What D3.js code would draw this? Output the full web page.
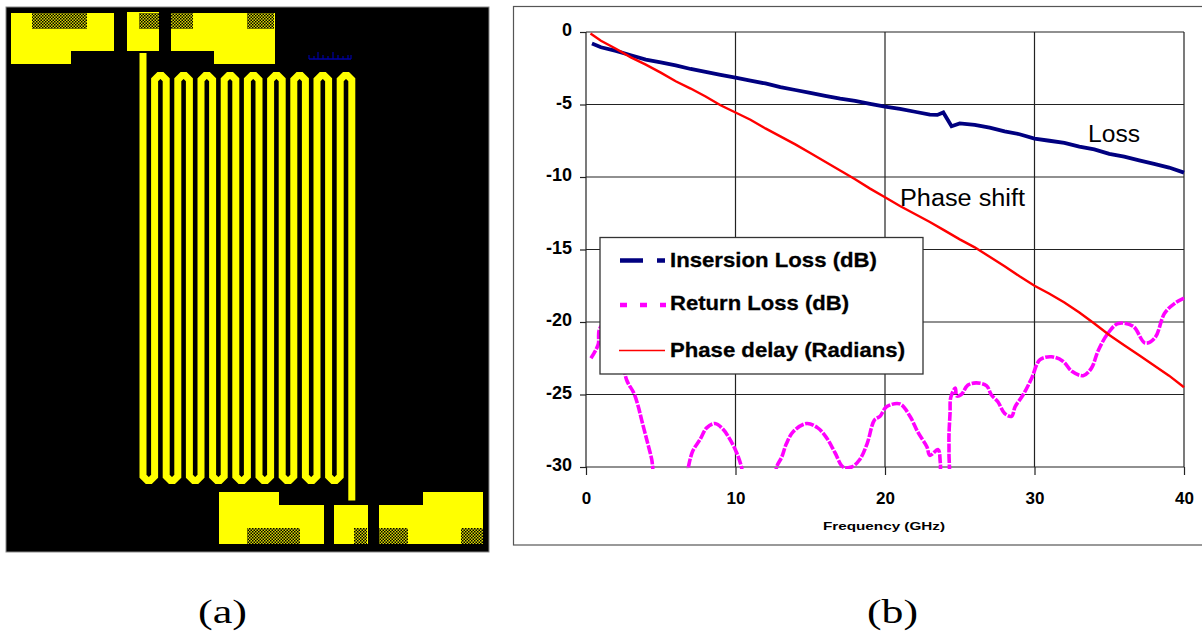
<!DOCTYPE html>
<html>
<head>
<meta charset="utf-8">
<script src="https://cdnjs.cloudflare.com/ajax/libs/d3/7.8.5/d3.min.js"></script>
<style>
  html, body { margin: 0; padding: 0; background: #fff; }
  svg { display: block; }
  text { font-family: "Liberation Sans", Arial, sans-serif; fill: #000; }
</style>
</head>
<body>
<svg id="chart" width="1202" height="635"></svg>
<script>
// chart data
var lossFreq = [0.4,1,2,3,4,5,6,7,8,9,10,11,12,13,14,15,16,17,18,19,20,21,22,23,23.5,23.9,24.45,25,26,27,28,29,30,31,32,33,34,35,36,37,38,39,40];
var lossDb = [-0.8,-1.05,-1.3,-1.6,-1.9,-2.1,-2.3,-2.55,-2.75,-2.95,-3.15,-3.35,-3.55,-3.8,-4,-4.2,-4.4,-4.6,-4.75,-4.95,-5.15,-5.3,-5.5,-5.7,-5.72,-5.55,-6.5,-6.3,-6.4,-6.6,-6.85,-7.05,-7.35,-7.5,-7.65,-7.9,-8.1,-8.4,-8.6,-8.85,-9.1,-9.35,-9.7];

var phaseFreq = [0.3,1,2,3,4,5,6,7,8,9,10,11,12,13,14,15,16,17,18,19,20,21,22,23,24,25,26,27,28,29,30,31,32,33,34,35,36,37,38,39,40];
var phaseRad = [-0.1,-0.6,-1.15,-1.75,-2.25,-2.8,-3.4,-3.9,-4.45,-5.05,-5.55,-6.05,-6.65,-7.2,-7.75,-8.35,-8.95,-9.55,-10.15,-10.8,-11.4,-12,-12.55,-13.1,-13.7,-14.3,-14.85,-15.5,-16.15,-16.85,-17.5,-18.05,-18.65,-19.35,-20.1,-20.9,-21.6,-22.3,-23,-23.7,-24.5];

var returnFreq = [0.33,0.67,0.83,0.9,1.5,2.2,2.72,3.2,3.5,3.72,4.06,4.4,4.46,4.6,6.7,6.85,7.14,7.63,8.07,8.63,9.17,9.63,10.07,10.4,10.6,12.6,12.75,13.1,13.4,13.87,14.76,15.5,16.1,16.65,17.2,17.77,18.3,18.8,19.3,19.67,20.1,21,21.67,22.2,22.8,23,23.55,23.7,23.8,24.2,24.28,24.28,24.35,24.4,24.7,24.8,25.1,25.55,26.1,26.8,27.1,27.55,28,28.47,28.7,29.25,29.8,30.37,31.15,31.9,32.5,33.25,33.8,34.25,34.9,35.6,36.6,37.4,38.05,38.7,39.4,40];
var returnDb = [-22.5,-21.9,-21.5,-20.5,-19.8,-21.5,-24,-24.9,-25.85,-26.75,-28.1,-29.5,-30,-31,-31,-30,-28.9,-28.1,-27.3,-27,-27.4,-28.1,-29,-30,-31,-31,-30,-29.3,-28.4,-27.55,-27,-27.3,-28,-29,-30,-30,-29.5,-28.4,-26.75,-26.5,-25.85,-25.65,-26.5,-27.6,-28.6,-29.2,-28.8,-29.7,-31,-31,-29,-27.8,-26.3,-25.2,-24.55,-25.1,-25,-24.35,-24.2,-24.4,-25,-25.5,-26.3,-26.5,-25.85,-25,-23.9,-22.6,-22.4,-22.7,-23.4,-23.7,-23.2,-22,-20.8,-20.1,-20.3,-21.45,-21.1,-19.4,-18.7,-18.35];

var freqTicks = [0,10,20,30,40];
var valueTicks = [0,-5,-10,-15,-20,-25,-30];

var legendLabels = ["Insersion Loss (dB)","Return Loss (dB)","Phase delay (Radians)"];
var noteLabels = ["Loss","Phase shift"];

// panel (a) layout, in the panel's own units
var padRects = [[5,6,103,38],[5,44,60,13],[121,5,32,39],[165,6,104,38],[208,44,61,13],[213,498,105,39],[213,485,60,13],[328,498,34,39],[373,498,104,39],[417,485,60,13]];
var hatchRects = [[26,6,55,16],[133,6,20,16],[165,6,22,16],[241,6,27,16],[241,521,53,16],[348,521,13,16],[373,521,29,16],[455,521,22,16]];
var meanderLegs = [137,148.6,160.2,171.8,183.4,195,206.6,218.2,229.8,241.4,253,264.6,276.2,287.8,299.4,311,322.6,334.2,345.8];
var meanderEnds = [46,68.5,473.5,493.6];
var rulerTicks = [303,308,312,317,322,327,332,337,342,345];
var rulerHeights = [4,3,7,4,3,7,4,3,4,4];

var svg = d3.select("#chart");

// ---- panel (a) ----
var ax = d3.scaleLinear().domain([0,483]).range([6,489]);
var ay = d3.scaleLinear().domain([0,545]).range([7,552]);

var defs = svg.append("defs");
var hatch = defs.append("pattern").attr("id","hatch").attr("width",3).attr("height",3).attr("patternUnits","userSpaceOnUse");
hatch.append("rect").attr("width",3).attr("height",3).attr("fill","#d8d800");
hatch.append("rect").attr("width",1.5).attr("height",1.5).attr("fill","#000");
hatch.append("rect").attr("x",1.5).attr("y",1.5).attr("width",1.5).attr("height",1.5).attr("fill","#000");

svg.append("rect").attr("x",ax(0)).attr("y",ay(0)).attr("width",ax(483)-ax(0)).attr("height",ay(545)-ay(0))
  .attr("fill","#000").attr("stroke","#888").attr("stroke-width",1);

// pads are drawn as one shape per block so the joins stay clean
svg.append("g").selectAll("rect").data(padRects).join("rect")
  .attr("x",function(d){ return ax(d[0]); })
  .attr("y",function(d){ return ay(d[1]); })
  .attr("width",function(d){ return ax(d[0]+d[2])-ax(d[0]); })
  .attr("height",function(d){ return ay(d[1]+d[3])-ay(d[1]); })
  .attr("fill","#ffff00");

svg.append("g").selectAll("rect").data(hatchRects).join("rect")
  .attr("x",function(d){ return ax(d[0]); })
  .attr("y",function(d){ return ay(d[1]); })
  .attr("width",function(d){ return ax(d[0]+d[2])-ax(d[0]); })
  .attr("height",function(d){ return ay(d[1]+d[3])-ay(d[1]); })
  .attr("fill","url(#hatch)");

// serpentine: bottom bends on even legs, top bends on odd legs
var chamfer = 4.25;
var meander = d3.path();
meander.moveTo(ax(meanderLegs[0]),ay(meanderEnds[0]));
for (var i = 0; i < meanderLegs.length-1; i++) {
  var x1 = ax(meanderLegs[i]), x2 = ax(meanderLegs[i+1]);
  var yBend = i % 2 == 0 ? ay(meanderEnds[2]) : ay(meanderEnds[1]);
  var sign = i % 2 == 0 ? -1 : 1;
  meander.lineTo(x1,yBend+sign*chamfer);
  meander.lineTo(x1+chamfer,yBend);
  meander.lineTo(x2-chamfer,yBend);
  meander.lineTo(x2,yBend+sign*chamfer);
}
meander.lineTo(ax(meanderLegs[meanderLegs.length-1]),ay(meanderEnds[3]));
svg.append("path").attr("d",meander.toString()).attr("fill","none")
  .attr("stroke","#ffff00").attr("stroke-width",7).attr("stroke-linejoin","miter");

// small scale mark
svg.append("line").attr("x1",ax(303)).attr("x2",ax(345)).attr("y1",ay(52)).attr("y2",ay(52)).attr("stroke","#0000a0").attr("stroke-width",1.4);
svg.append("g").selectAll("line").data(rulerTicks).join("line")
  .attr("x1",function(d){ return ax(d); }).attr("x2",function(d){ return ax(d); })
  .attr("y1",ay(52)).attr("y2",function(d,i){ return ay(52-rulerHeights[i]); })
  .attr("stroke","#0000a0").attr("stroke-width",1.2);

// ---- panel (b) ----
svg.append("rect").attr("x",513.5).attr("y",6.5).attr("width",700).attr("height",538.5)
  .attr("fill","#fff").attr("stroke","#555").attr("stroke-width",1.2);

var x = d3.scaleLinear().domain([0,40]).range([586,1184]);
var y = d3.scaleLinear().domain([-30,0]).range([467,32]);

// plain hyphen on the labels, d3 would give a long minus
var xAxis = d3.axisBottom(x).tickValues(freqTicks).tickSize(8).tickSizeOuter(0).tickFormat(String);
var yAxis = d3.axisLeft(y).tickValues(valueTicks).tickSize(6).tickSizeOuter(0).tickFormat(String);

var xg = svg.append("g").attr("transform","translate(0,467)").call(xAxis);
var yg = svg.append("g").attr("transform","translate(586,0)").call(yAxis);

svg.append("g").selectAll("line").data(freqTicks).join("line")
  .attr("x1",function(d){ return x(d); }).attr("x2",function(d){ return x(d); })
  .attr("y1",y(-30)).attr("y2",y(0)).attr("stroke","#222").attr("stroke-width",1.2);
svg.append("g").selectAll("line").data(valueTicks).join("line")
  .attr("x1",x(0)).attr("x2",x(40))
  .attr("y1",function(d){ return y(d); }).attr("y2",function(d){ return y(d); })
  .attr("stroke","#222").attr("stroke-width",1.2);

xg.select(".domain").remove();
yg.select(".domain").remove();
xg.selectAll("line").attr("stroke","#222").attr("stroke-width",1.2);
yg.selectAll("line").attr("stroke","#222").attr("stroke-width",1.2);
xg.selectAll("text").attr("font-size",17).attr("font-weight","bold").attr("font-family","Liberation Sans").attr("dy",0).attr("y",37).attr("fill","#000");
yg.selectAll("text").attr("font-size",18).attr("font-weight","bold").attr("font-family","Liberation Sans").attr("x",-14).attr("dy","0.32em").attr("y",-2).attr("fill","#000");

defs.append("clipPath").attr("id","plot").append("rect")
  .attr("x",x(0)-2).attr("y",y(0)-3).attr("width",x(40)-x(0)+6).attr("height",y(-30)-y(0)+5);

function curve(xs, ys) {
  return d3.line().x(function(d){ return x(d); }).y(function(d,i){ return y(ys[i]); })(xs);
}
function smoothCurve(xs, ys) {
  return d3.line().curve(d3.curveCatmullRom.alpha(0.5)).x(function(d){ return x(d); }).y(function(d,i){ return y(ys[i]); })(xs);
}

var plot = svg.append("g").attr("clip-path","url(#plot)");
plot.append("path").attr("d",smoothCurve(returnFreq,returnDb)).attr("fill","none")
  .attr("stroke","#ff00ff").attr("stroke-width",3.6).attr("stroke-dasharray","9 1.5");
plot.append("path").attr("d",curve(lossFreq,lossDb)).attr("fill","none")
  .attr("stroke","#000080").attr("stroke-width",3.8);
plot.append("path").attr("d",curve(phaseFreq,phaseRad)).attr("fill","none")
  .attr("stroke","#ff0000").attr("stroke-width",2.4);

// legend box sits above the curves, as in the original
svg.append("rect").attr("x",600).attr("y",237.5).attr("width",323).attr("height",136.5)
  .attr("fill","#fff").attr("stroke","#333").attr("stroke-width",1.3);

svg.append("line").attr("x1",620).attr("x2",665).attr("y1",260.5).attr("y2",260.5)
  .attr("stroke","#000080").attr("stroke-width",4.5).attr("stroke-dasharray","23 14 8");
svg.append("line").attr("x1",620).attr("x2",666).attr("y1",305).attr("y2",305)
  .attr("stroke","#ff00ff").attr("stroke-width",4.5).attr("stroke-dasharray","7 13");
svg.append("line").attr("x1",619).attr("x2",665).attr("y1",350.5).attr("y2",350.5)
  .attr("stroke","#ff0000").attr("stroke-width",1.6);

var legendBase = [267,310,357];
var legendWidth = [207,179,235];
svg.append("g").selectAll("text").data(legendLabels).join("text")
  .attr("x",670).attr("y",function(d,i){ return legendBase[i]; })
  .attr("font-size",21).attr("font-weight","bold")
  .attr("stroke","#000").attr("stroke-width",0.3)
  .attr("textLength",function(d,i){ return legendWidth[i]; }).attr("lengthAdjust","spacingAndGlyphs")
  .text(function(d){ return d; });

svg.append("text").attr("x",1088).attr("y",142).attr("font-size",23).attr("textLength",52).attr("lengthAdjust","spacingAndGlyphs").text(noteLabels[0]);
svg.append("text").attr("x",900).attr("y",206).attr("font-size",23).attr("textLength",125).attr("lengthAdjust","spacingAndGlyphs").text(noteLabels[1]);
svg.append("text").attr("x",823).attr("y",530).attr("font-size",11.5).attr("font-weight","bold").attr("textLength",122).attr("lengthAdjust","spacingAndGlyphs").text("Frequency (GHz)");

// sub-figure captions
svg.append("text").attr("x",198).attr("y",623).attr("font-size",33).attr("textLength",49).attr("lengthAdjust","spacingAndGlyphs").style("font-family","'Liberation Serif', serif").text("(a)");
svg.append("text").attr("x",867).attr("y",623).attr("font-size",33).attr("textLength",51).attr("lengthAdjust","spacingAndGlyphs").style("font-family","'Liberation Serif', serif").text("(b)");
</script>
</body>
</html>
